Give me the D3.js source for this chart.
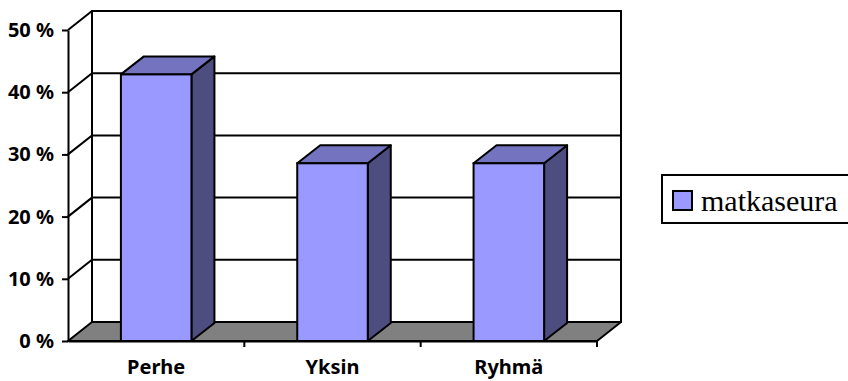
<!DOCTYPE html>
<html>
<head>
<meta charset="utf-8">
<script src="https://cdn.jsdelivr.net/npm/d3@7"></script>
<style>
  html, body { margin: 0; padding: 0; background: #fff; }
  svg { display: block; }
</style>
</head>
<body>
<svg id="chart" width="848" height="381"></svg>
<script>
// Travel company shares (matkaseura)
const categories = ["Perhe", "Yksin", "Ryhmä"];
const seriesName = "matkaseura";
const values = [0.4286, 0.2857, 0.2857];
const tickValues = [0, 0.1, 0.2, 0.3, 0.4, 0.5];

const svg = d3.select("#chart");

// Front plane of the plot and the depth offset of the 3D box
const plot = { left: 68, right: 597, top: 30, bottom: 341 };
const depth = { dx: 24, dy: -19 };
const barDepth = { dx: 23, dy: -18 };

const y = d3.scaleLinear().domain([0, 0.5]).range([plot.bottom, plot.top]);
const x = d3.scaleBand().domain(categories).range([plot.left, plot.right])
  .paddingInner(0.6).paddingOuter(0.3);
const xCat = d3.scaleBand().domain(categories).range([plot.left, plot.right]);

const colors = { front: "#9999ff", top: "#7373bf", side: "#4d4d80", floor: "#808080" };
const stroke = "#000", sw = 2;
const line = d3.line();
const labelFont = "'Noto Sans', 'DejaVu Sans', sans-serif";

// Back wall
svg.append("path")
  .attr("d", line([
    [plot.left + depth.dx, y(0.5) + depth.dy], [plot.right + depth.dx, y(0.5) + depth.dy],
    [plot.right + depth.dx, y(0) + depth.dy], [plot.left + depth.dx, y(0) + depth.dy]
  ]) + "Z")
  .attr("fill", "#fff").attr("stroke", stroke).attr("stroke-width", sw);

// Gridlines across side wall and back wall
svg.append("g").selectAll("path")
  .data(tickValues.filter(d => d > 0))
  .join("path")
  .attr("d", d => line([
    [plot.left, y(d)], [plot.left + depth.dx, y(d) + depth.dy],
    [plot.right + depth.dx, y(d) + depth.dy]
  ]))
  .attr("fill", "none").attr("stroke", stroke).attr("stroke-width", sw);

// Floor
svg.append("path")
  .attr("d", line([
    [plot.left, y(0)], [plot.right, y(0)],
    [plot.right + depth.dx, y(0) + depth.dy], [plot.left + depth.dx, y(0) + depth.dy]
  ]) + "Z")
  .attr("fill", colors.floor).attr("stroke", stroke).attr("stroke-width", sw)
  .attr("stroke-linejoin", "round");

// Columns
const bars = svg.append("g").selectAll("g")
  .data(categories.map((c, i) => ({ c, v: values[i] })))
  .join("g");

bars.append("path") // side face
  .attr("d", d => {
    const x1 = x(d.c) + x.bandwidth();
    return line([[x1, y(0)], [x1 + barDepth.dx, y(0) + barDepth.dy],
      [x1 + barDepth.dx, y(d.v) + barDepth.dy], [x1, y(d.v)]]) + "Z";
  })
  .attr("fill", colors.side).attr("stroke", stroke).attr("stroke-width", sw)
  .attr("stroke-linejoin", "round");

bars.append("path") // top face
  .attr("d", d => {
    const x0 = x(d.c), x1 = x0 + x.bandwidth(), yt = y(d.v);
    return line([[x0, yt], [x1, yt], [x1 + barDepth.dx, yt + barDepth.dy],
      [x0 + barDepth.dx, yt + barDepth.dy]]) + "Z";
  })
  .attr("fill", colors.top).attr("stroke", stroke).attr("stroke-width", sw)
  .attr("stroke-linejoin", "round");

bars.append("rect") // front face
  .attr("x", d => x(d.c))
  .attr("y", d => y(d.v))
  .attr("width", x.bandwidth())
  .attr("height", d => y(0) - y(d.v))
  .attr("fill", colors.front).attr("stroke", stroke).attr("stroke-width", sw);

// Value axis
const yAxis = svg.append("g")
  .attr("transform", `translate(${plot.left},0)`)
  .call(d3.axisLeft(y).tickValues(tickValues)
    .tickFormat(d => Math.round(d * 100) + " %")
    .tickSize(6).tickSizeOuter(0).tickPadding(8));
yAxis.select(".domain").attr("stroke", stroke).attr("stroke-width", sw);
yAxis.selectAll(".tick line").attr("stroke", stroke).attr("stroke-width", sw);
yAxis.selectAll(".tick text")
  .attr("font-family", labelFont)
  .attr("font-weight", "bold").attr("font-size", 20)
  .attr("fill", "#000");

// Category axis
const xAxis = svg.append("g")
  .attr("transform", `translate(0,${plot.bottom})`)
  .call(d3.axisBottom(xCat).tickSize(0).tickPadding(0));
xAxis.select(".domain").attr("stroke", stroke).attr("stroke-width", sw);
xAxis.selectAll(".tick text")
  .attr("y", 33)
  .attr("dy", 0)
  .attr("font-family", labelFont)
  .attr("font-weight", "bold").attr("font-size", 20)
  .attr("fill", "#000");
// Category dividers below the floor edge
const dividers = categories.slice(1).map(c => xCat(c)).concat([plot.right]);
xAxis.append("g").selectAll("line")
  .data(dividers)
  .join("line")
  .attr("x1", d => d).attr("x2", d => d)
  .attr("y1", 0).attr("y2", 6)
  .attr("stroke", stroke).attr("stroke-width", sw);

// Legend
const legend = svg.append("g");
legend.append("rect")
  .attr("x", 662).attr("y", 175).attr("width", 200).attr("height", 48)
  .attr("fill", "#fff").attr("stroke", stroke).attr("stroke-width", sw);
legend.append("rect")
  .attr("x", 673).attr("y", 191).attr("width", 19).attr("height", 19)
  .attr("fill", colors.front).attr("stroke", stroke).attr("stroke-width", sw);
legend.append("text")
  .attr("x", 701).attr("y", 211)
  .attr("font-family", "'Liberation Serif', 'Times New Roman', serif")
  .attr("font-size", 30).attr("fill", "#000")
  .text(seriesName);
</script>
</body>
</html>
